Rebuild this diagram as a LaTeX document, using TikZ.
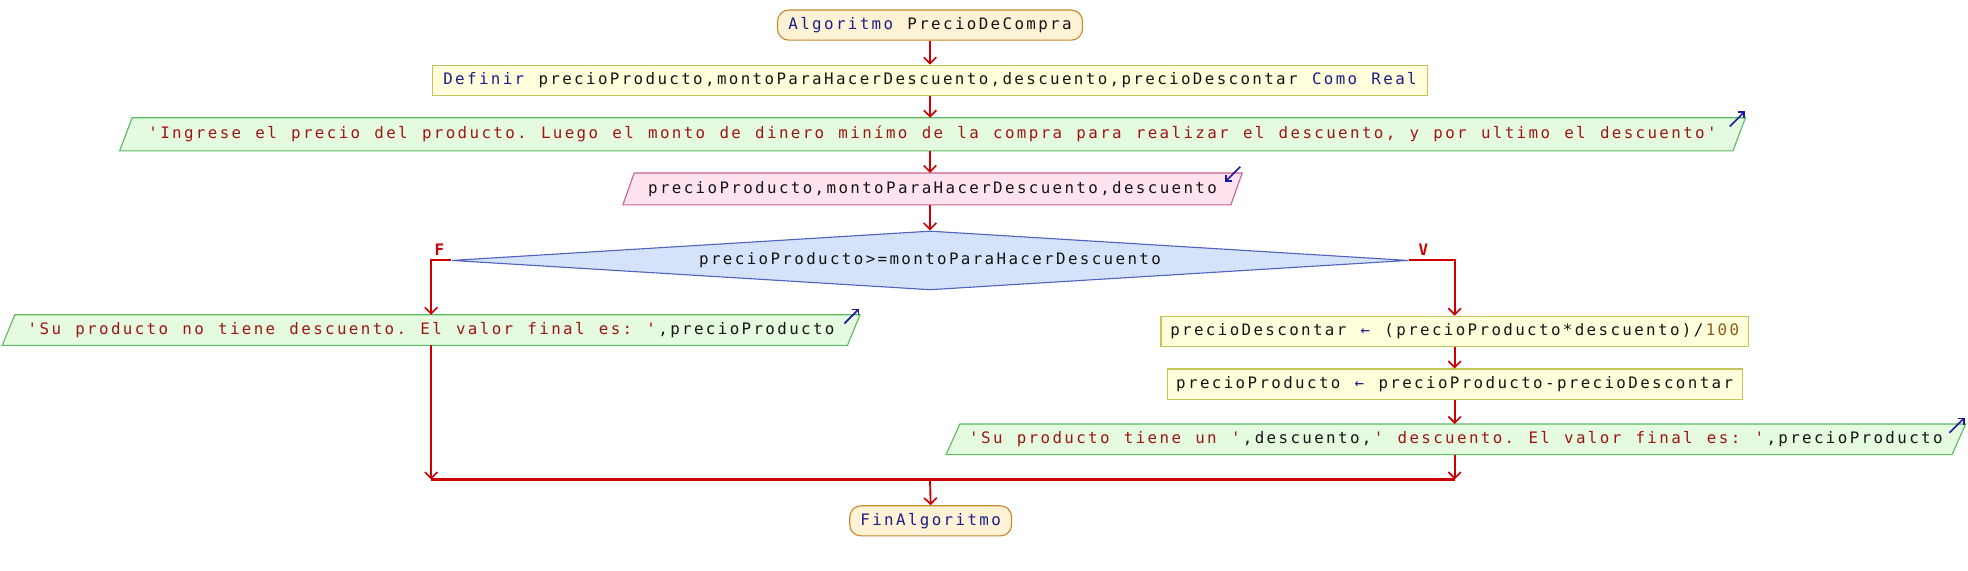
\documentclass[tikz,border=0pt]{standalone}
\usepackage{fontspec}
\setmonofont[LetterSpace=15.04]{DejaVu Sans Mono}
\usetikzlibrary{shapes.geometric,arrows.meta,backgrounds,calc}
\definecolor{kwc}{HTML}{1C1C8C}
\definecolor{strc}{HTML}{A01414}
\definecolor{numc}{HTML}{8C5A14}
\definecolor{idc}{HTML}{141414}
\definecolor{flowc}{HTML}{CC0000}
\definecolor{iconc}{HTML}{1A1AA0}
\definecolor{termf}{HTML}{FFF2D5}
\definecolor{termd}{HTML}{C8882C}
\definecolor{deff}{HTML}{FFFFDC}
\definecolor{defd}{HTML}{C4C45A}
\definecolor{outf}{HTML}{E4FBE0}
\definecolor{outd}{HTML}{5CBC62}
\definecolor{inf}{HTML}{FFE4F0}
\definecolor{ind}{HTML}{C8628E}
\definecolor{diaf}{HTML}{D5E3FA}
\definecolor{diad}{HTML}{5064C0}
\newcommand\pstyle{\ttfamily\fontsize{12.6}{15}\selectfont}
\newcommand\lk{\kern1.895pt}
\newcommand\wsp{\lk\hspace*{9.48pt}}
\newcommand\KW[1]{\textcolor{kwc}{#1}}
\newcommand\STR[1]{\textcolor{strc}{#1}}
\newcommand\NUM[1]{\textcolor{numc}{#1}}
\newcommand\drawpara[3]{%
  \begin{scope}[on background layer]
  \draw[#3] ($(#1.south west)+(-#2/2,0)$) -- ($(#1.north west)+(#2/2,0)$) --
    ($(#1.north east)+(#2/2,0)$) -- ($(#1.south east)+(-#2/2,0)$) -- cycle;
  \end{scope}}
\begin{document}
\begin{tikzpicture}[x=1pt,y=-1pt,
  base/.style={inner sep=0pt, font=\pstyle, text=idc},
  term/.style={base, draw=termd, fill=termf, rounded corners=9pt, minimum height=24pt, line width=0.9pt},
  proc/.style={base, draw=defd, fill=deff, minimum height=24pt, line width=0.9pt},
  iobox/.style={base, minimum height=26pt},
  outshape/.style={draw=outd, fill=outf, line width=0.9pt},
  inshape/.style={draw=ind, fill=inf, line width=0.9pt},
  dec/.style={base, shape=diamond, aspect=16.2, draw=diad, fill=diaf, minimum width=762pt, minimum height=47pt, line width=0.9pt},
  flow/.style={draw=flowc, line width=1.5pt, -{Straight Barb[length=5pt,width=10pt,line width=1.3pt]}},
  mline/.style={draw=flowc, line width=2pt},
  icon/.style={draw=iconc, line width=1.3pt, -{Straight Barb[length=3.5pt,width=7pt,line width=1.2pt]}},
  lab/.style={base, text=flowc, font=\pstyle\bfseries}
]
\useasboundingbox (0,0) rectangle (1568,454.2);
\begin{scope}[on background layer]
  \fill[white] (0,0) rectangle (1568,454.2);
\end{scope}

\node[term, minimum width=243pt] (start) at (741,20) {\KW{Algoritmo}\wsp PrecioDeCompra};
\node[proc, minimum width=793pt] (def) at (741,64) {\KW{Definir}\wsp precioProducto,montoParaHacerDescuento,descuento,precioDescontar\wsp\KW{Como\wsp Real}};
\node[iobox, minimum width=1285pt] (out1) at (743,107) {\STR{'Ingrese\wsp el\wsp precio\wsp del\wsp producto.\wsp Luego\wsp el\wsp monto\wsp de\wsp dinero\wsp minímo\wsp de\wsp la\wsp compra\wsp para\wsp realizar\wsp el\wsp descuento,\wsp y\wsp por\wsp ultimo\wsp el\wsp descuento'}};
\drawpara{out1}{10}{outshape}
\node[iobox, minimum height=25pt, minimum width=484pt] (inp) at (743,150.5) {precioProducto,montoParaHacerDescuento,descuento};
\drawpara{inp}{9}{inshape}
\node[dec] (dia) at (741,207.5) {precioProducto>=montoParaHacerDescuento};
\node[lab] (lf) at (350,199) {F};
\node[lab] (lv) at (1134,199) {V};
\node[iobox, minimum height=24pt, minimum width=673pt] (lo) at (343.5,263) {\STR{'Su\wsp producto\wsp no\wsp tiene\wsp descuento.\wsp El\wsp valor\wsp final\wsp es:\wsp'}\lk,precioProducto};
\drawpara{lo}{10}{outshape}
\node[proc, minimum width=468pt] (a1) at (1159,264) {precioDescontar\wsp\KW{←}\wsp(precioProducto*descuento)/\lk\NUM{100}};
\node[proc, minimum width=458pt] (a2) at (1159,306) {precioProducto\wsp\KW{←}\wsp precioProducto-precioDescontar};
\node[iobox, minimum height=24pt, minimum width=801pt] (o2) at (1160,350) {\STR{'Su\wsp producto\wsp tiene\wsp un\wsp'}\lk,descuento,\lk\STR{'\wsp descuento.\wsp El\wsp valor\wsp final\wsp es:\wsp'}\lk,precioProducto};
\drawpara{o2}{11}{outshape}
\node[term, minimum width=129pt] (fin) at (741.5,415) {\KW{FinAlgoritmo}};
\coordinate (m) at (741,382);

% icons
\draw[icon] ($(out1.north east)+(-7.5,7)$) -- ($(out1.north east)+(4.5,-5)$);
\draw[icon] ($(inp.north east)+(3,-5)$) -- ($(inp.north east)+(-9,7)$);
\draw[icon] ($(lo.north east)+(-7.5,7)$) -- ($(lo.north east)+(4.5,-5)$);
\draw[icon] ($(o2.north east)+(-7.5,7)$) -- ($(o2.north east)+(4.5,-5)$);

% connectors
\draw[flow] (start.south) -- (def.north);
\draw[flow] (def.south) -- (def.south |- out1.north);
\draw[flow] (out1.south -| def.south) -- (def.south |- inp.north);
\draw[flow] (inp.south -| def.south) -- (dia.north);
\draw[flow] (dia.west) -| (lo.north);
\draw[flow] (dia.east) -| (a1.north);
\draw[flow] (a1.south) -- (a2.north);
\draw[flow] (a2.south) -- (a2.south |- o2.north);
\draw[flow] (lo.south) -- (lo.south |- m);
\draw[flow] (o2.south -| a2.south) -- (a2.south |- m);
\draw[mline] (lo.south |- m) -- (a2.south |- m);
\draw[flow] (m) -- (fin.north);
\end{tikzpicture}
\end{document}
